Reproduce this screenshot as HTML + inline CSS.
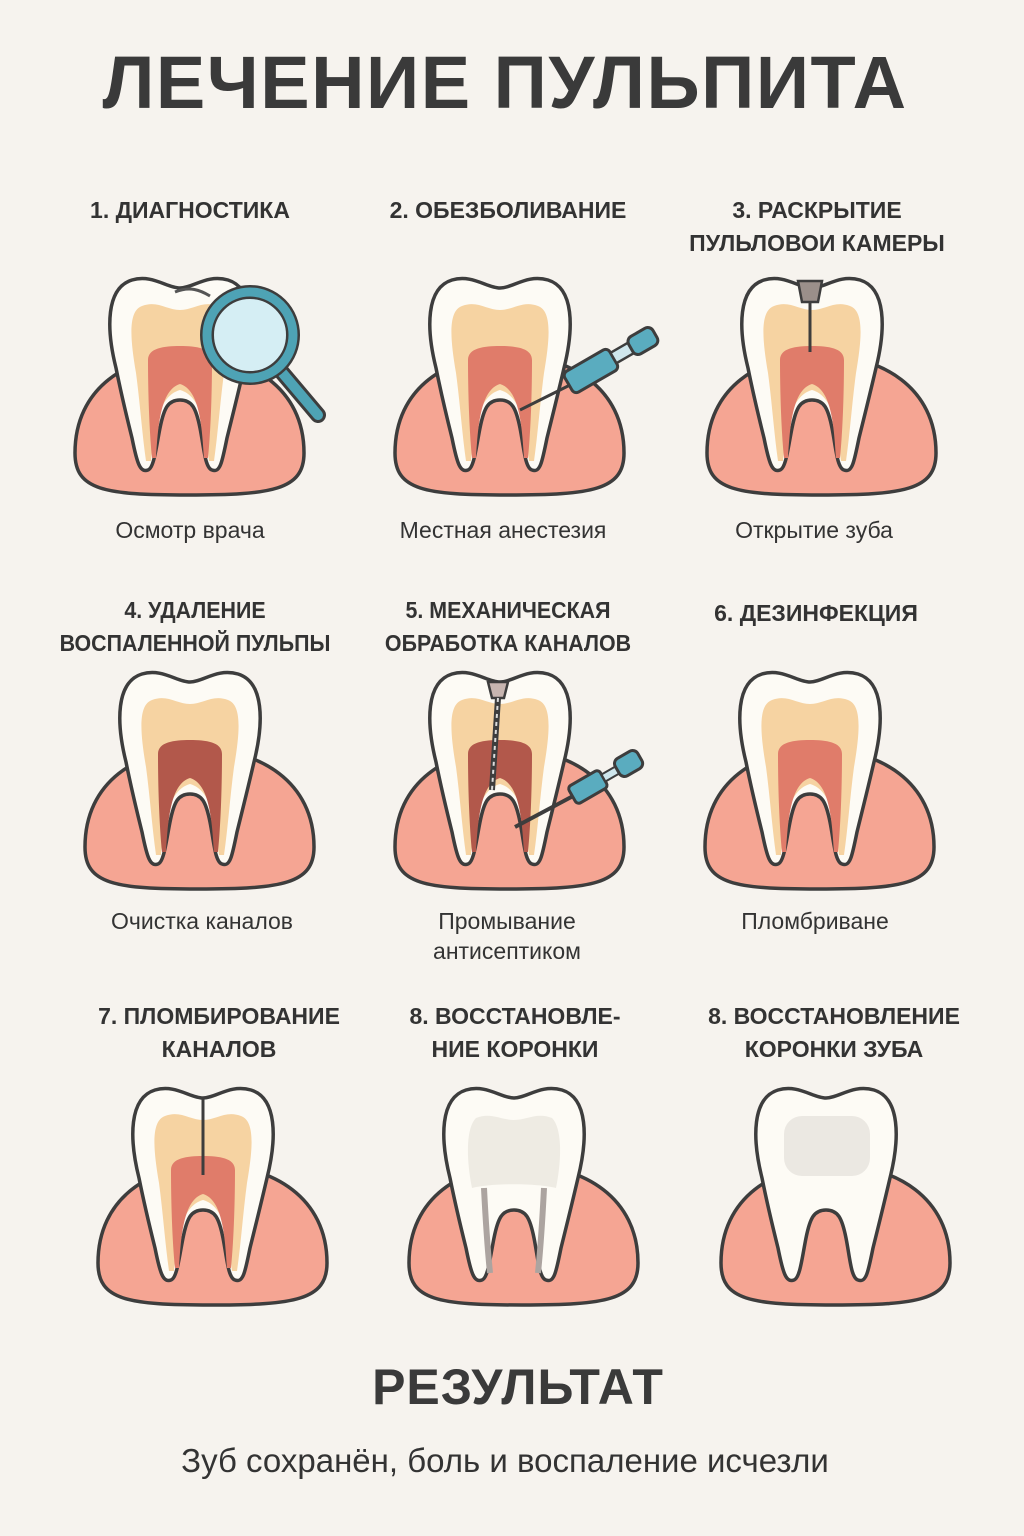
<!DOCTYPE html>
<html><head><meta charset="utf-8"><style>
body{margin:0;width:1024px;height:1536px;background:#f6f3ee;font-family:"Liberation Sans","DejaVu Sans",sans-serif;color:#333;position:relative;overflow:hidden}
.t{position:absolute;text-align:center;white-space:nowrap}
.h{font-weight:bold;font-size:23px;line-height:33px;color:#333;letter-spacing:0}
.c{font-size:23px;line-height:30px;color:#333}
svg{position:absolute;left:0;top:0}
</style></head><body>
<div class="t" style="left:0;width:1010px;top:40px;font-size:74px;font-weight:bold;color:#3a3a3a;letter-spacing:1.5px">ЛЕЧЕНИЕ ПУЛЬПИТА</div>

<div class="t h" style="left:40px;width:300px;top:194px">1. ДИАГНОСТИКА</div>
<div class="t h" style="left:358px;width:300px;top:194px">2. ОБЕЗБОЛИВАНИЕ</div>
<div class="t h" style="left:667px;width:300px;top:194px">3. РАСКРЫТИЕ<br>ПУЛЬЛОВОИ КАМЕРЫ</div>
<div class="t c" style="left:40px;width:300px;top:515px">Осмотр врача</div>
<div class="t c" style="left:353px;width:300px;top:515px">Местная анестезия</div>
<div class="t c" style="left:664px;width:300px;top:515px">Открытие зуба</div>

<div class="t h" style="left:45px;width:300px;top:594px;transform:scaleX(0.93)">4. УДАЛЕНИЕ<br>ВОСПАЛЕННОЙ ПУЛЬПЫ</div>
<div class="t h" style="left:358px;width:300px;top:594px;transform:scaleX(0.93)">5. МЕХАНИЧЕСКАЯ<br>ОБРАБОТКА КАНАЛОВ</div>
<div class="t h" style="left:666px;width:300px;top:597px">6. ДЕЗИНФЕКЦИЯ</div>
<div class="t c" style="left:52px;width:300px;top:906px">Очистка каналов</div>
<div class="t c" style="left:357px;width:300px;top:906px">Промывание<br>антисептиком</div>
<div class="t c" style="left:665px;width:300px;top:906px">Пломбриване</div>

<div class="t h" style="left:69px;width:300px;top:1000px">7. ПЛОМБИРОВАНИЕ<br>КАНАЛОВ</div>
<div class="t h" style="left:365px;width:300px;top:1000px">8. ВОССТАНОВЛЕ-<br>НИЕ КОРОНКИ</div>
<div class="t h" style="left:684px;width:300px;top:1000px">8. ВОССТАНОВЛЕНИЕ<br>КОРОНКИ ЗУБА</div>

<div class="t" style="left:0;width:1036px;top:1358px;font-size:50px;font-weight:bold;color:#3a3a3a;letter-spacing:1px">РЕЗУЛЬТАТ</div>
<div class="t" style="left:0;width:1010px;top:1442px;font-size:33px;color:#333">Зуб сохранён, боль и воспаление исчезли</div>

<svg width="1024" height="1536" viewBox="0 0 1024 1536">
<defs>
<path id="gum" d="M3,175 C3,110 55,77 116,77 C178,77 232,110 232,175 C232,212 200,217 116,217 C32,217 3,212 3,175Z" fill="#f5a593" stroke="#3d3d3d" stroke-width="3.5"/>
<path id="tooth" d="M60,2 C80,-4 95,10 108,10 C121,10 135,-4 156,2 C182,10 182,50 172,90 C165,120 160,140 155,160 C150,185 148,195 140,192 C133,190 132,170 128,150 C124,130 120,122 108,122 C96,122 92,130 88,150 C84,170 82,190 76,192 C68,195 65,185 60,160 C55,140 50,120 44,90 C34,50 34,10 60,2Z" fill="#fdfbf5" stroke="#3d3d3d" stroke-width="3.5"/>
<path id="dentin" d="M70,28 C85,22 95,32 108,32 C121,32 131,22 146,28 C160,33 158,60 152,95 C148,125 146,155 142,183 L137,183 C134,152 130,118 108,112 C86,118 82,152 79,183 L74,183 C70,155 68,125 64,95 C58,60 56,33 70,28Z" fill="#f6d3a2"/>
<path id="pulp" d="M76,82 C76,70 92,68 108,68 C124,68 140,70 140,82 C140,110 139,150 136,180 L132,180 C130,150 128,112 108,106 C88,112 86,150 84,180 L80,180 C77,150 76,110 76,82Z" fill="#e07c6a"/>
<path id="pulpd" d="M76,82 C76,70 92,68 108,68 C124,68 140,70 140,82 C140,110 139,150 136,180 L132,180 C130,150 128,112 108,106 C88,112 86,150 84,180 L80,180 C77,150 76,110 76,82Z" fill="#b2584b"/>
<g id="full"><use href="#gum"/><use href="#tooth"/><use href="#dentin"/><use href="#pulp"/></g>
</defs>

<use href="#full" x="72" y="278"/>
<path d="M175,292 C190,286 200,290 210,296" stroke="#555" stroke-width="3" fill="none"/>
<line x1="280" y1="370" x2="318" y2="415" stroke="#3d3d3d" stroke-width="16" stroke-linecap="round"/>
<line x1="280" y1="370" x2="318" y2="415" stroke="#4ea3b5" stroke-width="10" stroke-linecap="round"/>
<circle cx="250" cy="335" r="43" fill="#d5eef4" stroke="#3d3d3d" stroke-width="14"/>
<circle cx="250" cy="335" r="43" fill="none" stroke="#4ea3b5" stroke-width="9"/>

<use href="#full" x="392" y="278"/>
<line x1="520" y1="410" x2="570" y2="385" stroke="#3d3d3d" stroke-width="3"/>
<g transform="translate(610,360) rotate(-30)">
<rect x="-48" y="-12" width="52" height="24" rx="5" fill="#5aacbf" stroke="#3d3d3d" stroke-width="3"/>
<rect x="4" y="-6" width="20" height="12" fill="#cfe6ec" stroke="#3d3d3d" stroke-width="2.5"/>
<rect x="24" y="-10" width="28" height="20" rx="6" fill="#5aacbf" stroke="#3d3d3d" stroke-width="3"/>
</g>

<use href="#full" x="704" y="278"/>
<path d="M798,281 L822,281 L818,302 L802,302Z" fill="#9a8f8a" stroke="#3d3d3d" stroke-width="2.5"/>
<line x1="810" y1="302" x2="810" y2="352" stroke="#3d3d3d" stroke-width="3"/>

<g transform="translate(82,672)"><use href="#gum"/><use href="#tooth"/><use href="#dentin"/><use href="#pulpd"/></g>

<g transform="translate(392,672)"><use href="#gum"/><use href="#tooth"/><use href="#dentin"/><use href="#pulpd"/></g>
<path d="M488,682 L508,682 L504,698 L492,698Z" fill="#c7b5b0" stroke="#3d3d3d" stroke-width="2.5"/>
<line x1="498" y1="698" x2="492" y2="790" stroke="#3d3d3d" stroke-width="6"/>
<line x1="498" y1="698" x2="492" y2="790" stroke="#ddd" stroke-width="2" stroke-dasharray="4 4"/>
<line x1="515" y1="827" x2="575" y2="795" stroke="#3d3d3d" stroke-width="4"/>
<g transform="translate(600,780) rotate(-30)">
<rect x="-32" y="-10" width="36" height="20" rx="4" fill="#5aacbf" stroke="#3d3d3d" stroke-width="3"/>
<rect x="4" y="-4" width="16" height="8" fill="#cfe6ec" stroke="#3d3d3d" stroke-width="2"/>
<rect x="20" y="-10" width="26" height="20" rx="6" fill="#5aacbf" stroke="#3d3d3d" stroke-width="3"/>
</g>

<use href="#full" x="702" y="672"/>

<use href="#full" x="95" y="1088"/>
<line x1="203" y1="1098" x2="203" y2="1175" stroke="#3d3d3d" stroke-width="3"/>

<g transform="translate(406,1088)"><use href="#gum"/><use href="#tooth"/>
<path d="M70,30 C85,24 95,32 108,32 C121,32 131,24 146,30 C156,40 156,70 150,100 C130,95 86,95 66,100 C60,70 60,40 70,30Z" fill="#eeebe3"/>
<path d="M78,100 C80,140 82,165 84,185" stroke="#aca4a0" stroke-width="6" fill="none"/>
<path d="M138,100 C136,140 134,165 132,185" stroke="#aca4a0" stroke-width="6" fill="none"/></g>

<g transform="translate(718,1088)"><use href="#gum"/><use href="#tooth"/>
<rect x="66" y="28" width="86" height="60" rx="18" fill="#ebe8e2"/></g>
</svg>
</body></html>
